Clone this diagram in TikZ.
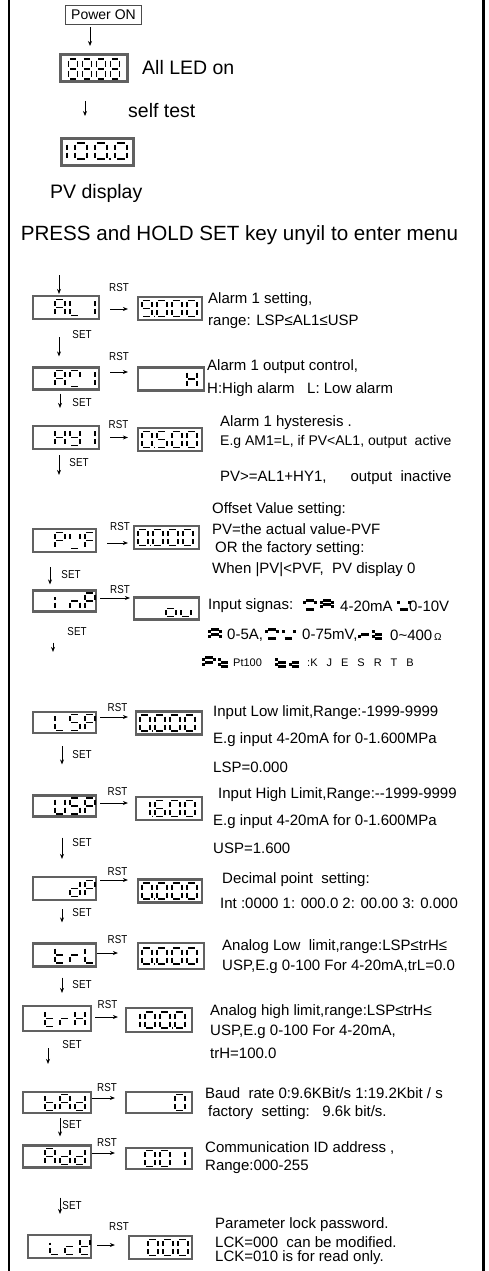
\documentclass[tikz,border=0pt]{standalone}
\usepackage{fontspec}
\setmainfont{Liberation Sans}
\usetikzlibrary{arrows.meta}

% seven segment glyphs, as lists of segments
\newcommand\sgZero{a,b,c,d,e,f}
\newcommand\sgOne{b,c}
\newcommand\sgFive{a,c,d,f,g}
\newcommand\sgSix{a,c,d,e,f,g}
\newcommand\sgEight{a,b,c,d,e,f,g}
\newcommand\sgNine{a,b,c,d,f,g}
\newcommand\sgZeroP{\sgZero,p}
\newcommand\sgOneP{\sgOne,p}
\newcommand\sgNineP{\sgNine,p}
\newcommand\sgA{a,b,c,e,f,g}
\newcommand\sgL{d,e,f}
\newcommand\sgLi{d,e,h}
\newcommand\sgM{a,b,d,f}
\newcommand\sgH{b,c,e,f,g}
\newcommand\sgY{b,c,d,f,g}
\newcommand\sgP{a,b,e,f,g}
\newcommand\sgV{b,d,f}
\newcommand\sgF{a,e,f,g}
\newcommand\sgI{e,h}
\newcommand\sgN{c,e,g}
\newcommand\sgS{a,c,d,f,g}
\newcommand\sgU{b,c,d,e,f}
\newcommand\sgd{b,c,d,e,g}
\newcommand\sgt{d,e,f,g}
\newcommand\sgr{e,g}
\newcommand\sgb{c,d,e,f,g}
\newcommand\sgc{d,e,g}
\newcommand\sgK{b,d,e,f,g}
\newcommand\sgo{c,d,e,g}
\newcommand\sgu{c,d,e}

\newcommand\segpitch{15}
\newcommand\seghalf{8}
% glyphs in a display box: node, offset of first glyph, glyphs
\newcommand\showsegs[3]{%
  \foreach \cur [count=\i from 0] in {#3} {
    \path (#1.west) ++({#2+\segpitch*\i},-\seghalf) pic[segcell] {segchar=\cur};
  }}
\newcommand\keytext[1]{\scalebox{0.85}[1]{#1}}

\begin{document}
\begin{tikzpicture}[x=1pt, y=-1pt]

\tikzset{lbox/.style={draw=black!62, line width=2.2pt, rectangle, minimum width=66pt, minimum height=23pt, inner sep=0pt}}
\tikzset{bigbox/.style={draw=black!62, line width=3pt, rectangle, inner sep=0pt}}
\tikzset{desc/.style={anchor=west, inner sep=0pt, font=\fontsize{15}{17}\selectfont}}
\tikzset{small/.style={anchor=west, inner sep=0pt, font=\fontsize{11}{13}\selectfont}}
\tikzset{head/.style={anchor=west, inner sep=0pt, font=\fontsize{19.5}{22}\selectfont}}
\tikzset{keylbl/.style={inner sep=0pt, font=\fontsize{11.5}{13}\selectfont}}
\tikzset{arr/.style={-{Stealth[length=5pt, width=4pt]}, line width=0.9pt}}
\tikzset{segline/.style={line width=1.8pt}, segcell/.style={}}
\tikzset{inglyph/.style={xscale=1.1, yscale=0.5625, segline/.style={line width=3pt}}}
\tikzset{pics/segchar/.style={code={
  \coordinate (a1) at (1.5,0);     \coordinate (a2) at (8.5,0);
  \coordinate (b1) at (10,1.5);    \coordinate (b2) at (10,6.5);
  \coordinate (c1) at (10,9.5);    \coordinate (c2) at (10,14.5);
  \coordinate (d1) at (1.5,16);    \coordinate (d2) at (8.5,16);
  \coordinate (e1) at (0,9.5);     \coordinate (e2) at (0,14.5);
  \coordinate (f1) at (0,1.5);     \coordinate (f2) at (0,6.5);
  \coordinate (g1) at (1.5,8);     \coordinate (g2) at (8.5,8);
  \coordinate (h1) at (0,4);       \coordinate (h2) at (0,6.5);
  \coordinate (p1) at (12.5,15.1); \coordinate (p2) at (12.5,16.9);
  \edef\seglist{#1}
  \foreach \seg in \seglist {\draw[segline] (\seg1) -- (\seg2);}
}}}

\useasboundingbox (0,0) rectangle (488,1271);

% frame
\draw[line width=2.6pt] (9,0) -- (9,1271);
\draw[line width=2.6pt] (483.5,0) -- (483.5,1271);

% power on, self test
\node[draw=black!70, line width=1.2pt, minimum width=76pt, minimum height=19pt, inner sep=0pt, font=\fontsize{14}{16}\selectfont] at (103.5,15) (power) {Power ON};
\node[bigbox, minimum width=67pt, minimum height=27pt] at (94,68) (led) {};
\node[bigbox, minimum width=72pt, minimum height=27pt] at (97.5,152) (pv) {};
\node[head] at (142,68) (led-txt) {All LED on};
\node[head] at (128,111) (test-txt) {self test};
\node[head] at (50,193) (pv-txt) {PV display};
\node[head, anchor=center, font=\fontsize{20.6}{23}\selectfont] at (239.5,235) (menu-txt) {PRESS and HOLD SET key unyil to enter menu};

\draw[arr, shorten <=2pt, shorten >=7pt] ([xshift=-13.5pt]power.south) -- ([xshift=-13.5pt]power.south |- led.north);
\draw[arr, shorten <=18pt, shorten >=21pt] ([xshift=-9pt]led.south) -- ([xshift=-9pt]led.south |- pv.north);

\begin{scope}[segcell/.style={xscale=0.9, yscale=1.25}]
  \renewcommand\segpitch{14}\renewcommand\seghalf{9}
  \showsegs{led}{9.5}{\sgEight,\sgEight,\sgEight,\sgEight}
\end{scope}
\begin{scope}[segcell/.style={xscale=1.2}]
  \renewcommand\segpitch{20}\renewcommand\seghalf{9}
  \showsegs{pv}{-5}{\sgOne,\sgZero,\sgZeroP,\sgZero}
\end{scope}

% menu boxes
\node[lbox] at (66,307.5) (al1) {};
\node[lbox, minimum height=22pt] at (66,378.5) (am1) {};
\node[lbox] at (66,437.5) (hy1) {};
\node[lbox, minimum width=63pt] at (64.5,540.5) (pvf) {};
\node[lbox, minimum width=63pt, minimum height=21pt] at (64.5,601) (inp) {};
\node[lbox, minimum width=63pt, minimum height=21pt] at (64.5,722.5) (lsp) {};
\node[lbox, minimum width=63pt, minimum height=21pt] at (64.5,806) (usp) {};
\node[lbox, minimum width=63pt] at (64.5,888.5) (dp) {};
\node[lbox, minimum width=63pt] at (64.5,955) (trl) {};
\node[lbox, minimum width=68pt, minimum height=25pt] at (57,1018.5) (trh) {};
\node[lbox, minimum width=68pt, minimum height=21pt] at (57,1102.5) (bad) {};
\node[lbox, minimum width=68pt, minimum height=22pt] at (57,1156.5) (add) {};
\node[lbox, minimum width=63pt] at (59.5,1246.5) (lck) {};

\node[lbox, minimum width=64pt] at (170,308.5) (al1-v) {};
\node[lbox] at (171,379) (am1-v) {};
\node[lbox, minimum width=64pt] at (170,439.5) (hy1-v) {};
\node[lbox, minimum width=65pt] at (166.5,537.5) (pvf-v) {};
\node[lbox, minimum width=65pt, minimum height=22pt] at (166.5,608.5) (inp-v) {};
\node[lbox] at (169,723) (lsp-v) {};
\node[lbox] at (169,808.5) (usp-v) {};
\node[lbox, minimum width=64pt] at (170,891) (dp-v) {};
\node[lbox, minimum height=26pt] at (171,956) (trl-v) {};
\node[lbox, minimum height=24pt] at (159,1020) (trh-v) {};
\node[lbox, minimum height=21pt] at (159,1102.5) (bad-v) {};
\node[lbox, minimum height=21pt] at (159,1158.5) (add-v) {};
\node[lbox, minimum width=63pt] at (160.5,1247.5) (lck-v) {};

% glyphs in the boxes
\showsegs{al1}{23}{\sgA,\sgL,\sgOne}
\showsegs{am1}{23}{\sgA,\sgM,\sgOne}
\showsegs{hy1}{23}{\sgH,\sgY,\sgOne}
\showsegs{pvf}{23}{\sgP,\sgV,\sgF}
\showsegs{inp}{23}{\sgI,\sgN,\sgP}
\showsegs{lsp}{23}{\sgL,\sgS,\sgP}
\showsegs{usp}{23}{\sgU,\sgS,\sgP}
\showsegs{dp}{38}{\sgd,\sgP}
\showsegs{trl}{23}{\sgt,\sgr,\sgL}
\showsegs{trh}{23}{\sgt,\sgr,\sgH}
\showsegs{bad}{23}{\sgb,\sgA,\sgd}
\showsegs{add}{23}{\sgA,\sgd,\sgd}
\showsegs{lck}{23}{\sgLi,\sgc,\sgK}

\showsegs{al1-v}{5}{\sgNineP,\sgZero,\sgZero,\sgZero}
\showsegs{am1-v}{50}{\sgH}
\showsegs{hy1-v}{5}{\sgZeroP,\sgFive,\sgZero,\sgZero}
\showsegs{pvf-v}{5}{\sgZeroP,\sgZero,\sgZero,\sgZero}
\showsegs{inp-v}{33}{\sgo,\sgu}
\showsegs{lsp-v}{5}{\sgZeroP,\sgZero,\sgZero,\sgZero}
\showsegs{usp-v}{5}{\sgOneP,\sgSix,\sgZero,\sgZero}
\showsegs{dp-v}{5}{\sgZeroP,\sgZero,\sgZero,\sgZero}
\showsegs{trl-v}{5}{\sgZeroP,\sgZero,\sgZero,\sgZero}
\showsegs{trh-v}{5}{\sgOne,\sgZero,\sgZeroP,\sgZero}
\showsegs{bad-v}{50}{\sgZero}
\showsegs{add-v}{20}{\sgZero,\sgZero,\sgOne}
\showsegs{lck-v}{20}{\sgZero,\sgZero,\sgZero}

% SET arrows
\coordinate (menu-in) at (59,275);
\draw[arr, shorten >=1pt] (menu-in) -- (menu-in |- al1.north);
\foreach \a/\b/\dx/\sa/\sb in {al1/am1/-7/17/10, am1/hy1/-6/3/17, hy1/pvf/-7/5/53, pvf/inp/-14.5/14/5, inp/lsp/-11.5/30/59, lsp/usp/-2.5/12/30, usp/dp/-2.5/20/17, dp/trl/-2.5/8/20, trl/trh/-2.5/10/12, trh/bad/-9/16/27, bad/add/3/4/8, add/lck/3/29/20}
  \draw[arr, shorten <=\sa pt, shorten >=\sb pt] ([xshift=\dx pt]\a.south) -- ([xshift=\dx pt]\a.south |- \b.north);
\foreach \n/\x/\y in {al1/82/335, am1/82/403, hy1/79/463, pvf/71/575, inp/77/632, lsp/82/755, usp/82/843, dp/82/913, trl/82/985, trh/72/1045, bad/72/1125, add/72/1206}
  \node[keylbl] at (\x,\y) (set-\n) {\keytext{SET}};

% RST arrows
\foreach \n/\dy/\sa/\sb in {al1/-1.5/10/9, am1/6.5/10/9, hy1/0/10/9, pvf/-2.5/10/5, inp/3/3/3, lsp/5.5/3/7, usp/3/3/7, dp/8.5/3/9, trl/2/0/19, trh/1.5/3/7, bad/4.5/0/10, add/3.5/0/10, lck/1.5/5/13}
  \draw[arr, shorten <=\sa pt, shorten >=\sb pt] ([yshift=\dy pt]\n.east) -- ([yshift=\dy pt]\n.east -| \n-v.west);
\foreach \n/\x/\y in {al1/119/288, am1/119/357, hy1/118.5/425, pvf/120/527, inp/120/590, lsp/117.5/708, usp/117.5/792, dp/117.5/872, trl/117.5/940, trh/107.5/1005, bad/107/1088, add/107/1143, lck/119/1227}
  \node[keylbl] at (\x,\y) (rst-\n) {\keytext{RST}};

% descriptions
\node[desc] at (208,300) (al1-t1) {Alarm 1 setting,};
\node[desc] at (208,322) (al1-t2) {range: LSP≤AL1≤USP};
\node[desc] at (207,367) (am1-t1) {Alarm 1 output control,};
\node[desc] at (207,390) (am1-t2) {H:High alarm\ \ \ L: Low\ alarm};
\node[desc] at (220,423) (hy1-t1) {Alarm 1 hysteresis .};
\node[desc, font=\fontsize{14}{16}\selectfont] at (220,442) (hy1-t2) {E.g AM1=L, if PV<AL1, output\ \ active};
\node[desc] at (220,478) (hy1-t3) {PV>=AL1+HY1,\hspace{24pt}output\ \ inactive};
\node[desc] at (212,510) (pvf-t1) {Offset Value setting:};
\node[desc] at (212,529) (pvf-t2) {PV=the actual value-PVF};
\node[desc] at (215,549) (pvf-t3) {OR the factory setting:};
\node[desc] at (212,570) (pvf-t4) {When |PV|<PVF,\ \ PV display 0};

\node[desc] at (208,606) (inp-t1) {Input signas:};
\path (304.5,600) pic[inglyph] {segchar=\sgM};
\path (321.5,600) pic[inglyph] {segchar=\sgA};
\node[desc] at (340,606) (inp-t2) {4-20mA};
\path (398.5,600) pic[inglyph] {segchar=\sgV};
\node[desc] at (409,606) (inp-t3) {0-10V};
\path (209.5,629.5) pic[inglyph] {segchar=\sgA};
\node[desc] at (227,635) (inp-t4) {0-5A,};
\path (266.5,629.5) pic[inglyph] {segchar=\sgM};
\path (283,629.5) pic[inglyph] {segchar=\sgV};
\node[desc] at (302,635) (inp-t5) {0-75mV,};
\path (359.5,629.5) pic[inglyph] {segchar=\sgr};
\path (373,629.5) pic[inglyph] {segchar=\sgt};
\node[desc] at (390,635) (inp-t6) {0\textasciitilde400{\fontsize{10}{12}\selectfont\,Ω}};
\path (203.5,657.5) pic[inglyph] {segchar=\sgP};
\path (219,657.5) pic[inglyph] {segchar=\sgt};
\node[small] at (233,663) (inp-t7) {Pt100};
\path (276.5,657.5) pic[inglyph] {segchar=\sgt};
\path (290,657.5) pic[inglyph] {segchar=\sgc};
\node[small] at (307,663) (inp-t8) {:K\hspace{9pt}J\hspace{9pt}E\hspace{9pt}S\hspace{9pt}R\hspace{9pt}T\hspace{9pt}B};

\node[desc] at (213,713) (lsp-t1) {Input Low limit,Range:-1999-9999};
\node[desc] at (213,740) (lsp-t2) {E.g input 4-20mA for 0-1.600MPa};
\node[desc] at (213,767) (lsp-t3) {LSP=0.000};
\node[desc] at (218,795) (usp-t1) {Input High Limit,Range:-{}-1999-9999};
\node[desc] at (213,822) (usp-t2) {E.g input 4-20mA for 0-1.600MPa};
\node[desc] at (213,848) (usp-t3) {USP=1.600};
\node[desc] at (222,880) (dp-t1) {Decimal point\ \ setting:};
\node[desc] at (220,903) (dp-t2) {Int :0000 1: 000.0 2: 00.00 3: 0.000};
\node[desc] at (222,947) (trl-t1) {Analog Low\ \ limit,range:LSP≤trH≤};
\node[desc] at (222,967) (trl-t2) {USP,E.g 0-100 For 4-20mA,trL=0.0};
\node[desc] at (210,1012) (trh-t1) {Analog high limit,range:LSP≤trH≤};
\node[desc] at (210,1032) (trh-t2) {USP,E.g 0-100 For 4-20mA,};
\node[desc] at (210,1053) (trh-t3) {trH=100.0};
\node[desc] at (205,1093) (bad-t1) {Baud\ \ rate 0:9.6KBit/s 1:19.2Kbit / s};
\node[desc] at (208,1113) (bad-t2) {factory\ \ setting:\ \ \ 9.6k bit/s.};
\node[desc] at (205,1148) (add-t1) {Communication ID address ,};
\node[desc] at (205,1167) (add-t2) {Range:000-255};
\node[desc] at (215,1225) (lck-t1) {Parameter lock password.};
\node[desc] at (215,1242) (lck-t2) {LCK=000\ \ can be modified.};
\node[desc] at (215,1258) (lck-t3) {LCK=010 is for read only.};

\end{tikzpicture}
\end{document}
